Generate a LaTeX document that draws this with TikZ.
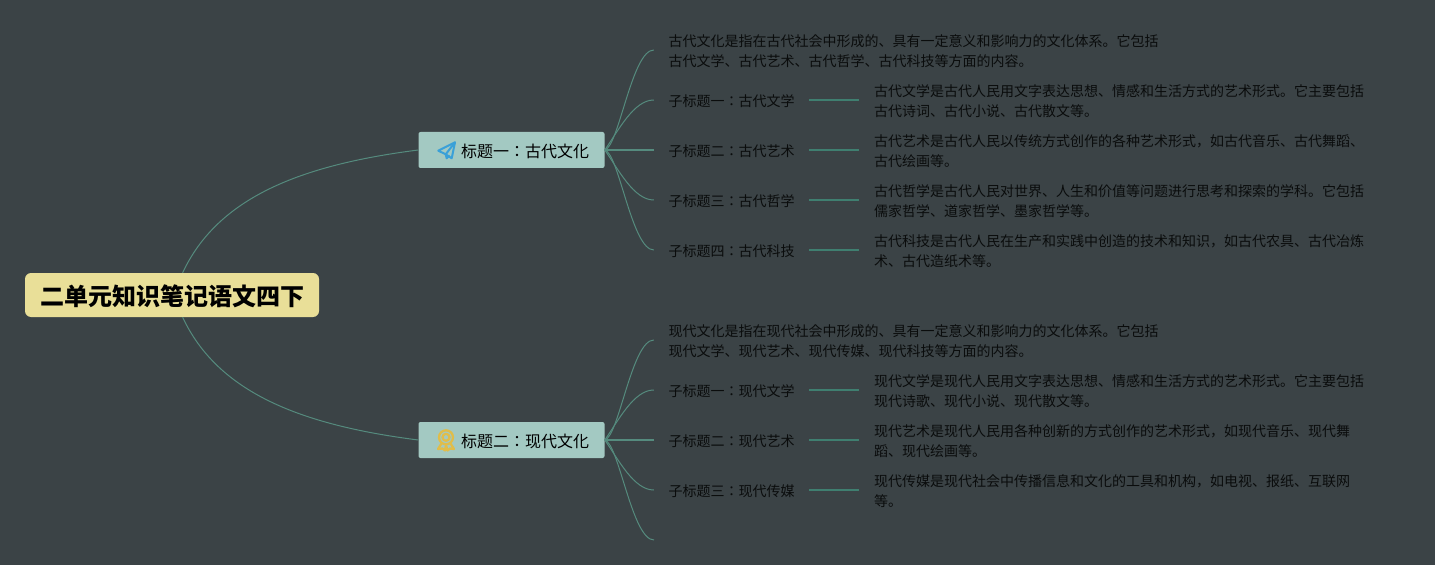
\documentclass[tikz,border=0pt]{standalone}
\usepackage{fontspec}
\setmainfont{Noto Sans CJK JP}
\usetikzlibrary{positioning}
\definecolor{bgcol}{HTML}{3B4346}
\definecolor{linecol}{HTML}{558B7E}
\definecolor{linkcol}{HTML}{3F7F70}
\definecolor{rootcol}{HTML}{E9DF98}
\definecolor{topiccol}{HTML}{A3C9C2}
\definecolor{inkcol}{HTML}{0A0C0C}
\definecolor{planecol}{HTML}{3AA0D8}
\definecolor{medalcol}{HTML}{E0BD4A}
\tikzset{
  rootbox/.style={fill=rootcol, rounded corners=4.5pt, minimum width=220.5pt, minimum height=33pt, inner sep=0pt, text=black, text height=17.4pt, font=\fontsize{18}{22}\selectfont\bfseries},
  topic/.style={fill=topiccol, rounded corners=1.5pt, minimum width=139.5pt, minimum height=27pt, inner sep=0pt, text=black, text height=12.2pt, font=\fontsize{12}{15}\selectfont},
  subhead/.style={inner xsep=10.9pt, inner ysep=0pt, text=inkcol, text height=11pt, font=\fontsize{10.5}{15}\selectfont},
  detail/.style={subhead, text width=372pt, align=left},
  branch/.style={draw=linecol, line width=.75pt},
  link/.style={draw=linkcol, line width=1.1pt}
}
\begin{document}
\begin{tikzpicture}[x=.75pt, y=.75pt, node distance=37.5pt]

            \useasboundingbox[fill=bgcol] (0,0) rectangle (1435,565);

            % Root and the two topics
            \node (root) [rootbox] at (172,270) {二单元知识笔记语文四下};
            \node (T1) [topic] at (511.5,415) {\hspace*{20.25pt}标题一：古代文化};
            \node (T2) [topic] at (511.5,125) {\hspace*{20.25pt}标题二：现代文化};

            % First topic, rows
            \node (S13) [subhead, right=36.8pt of T1.east, anchor=west] {子标题二：古代艺术};
            \node (S12) [subhead, above=of S13.west, anchor=west] {子标题一：古代文学};
            \node (S11) [detail, above=of S12.west, anchor=west] {古代文化是指在古代社会中形成的、具有一定意义和影响力的文化体系。它包括\\古代文学、古代艺术、古代哲学、古代科技等方面的内容。};
            \node (S14) [subhead, below=of S13.west, anchor=west] {子标题三：古代哲学};
            \node (S15) [subhead, below=of S14.west, anchor=west] {子标题四：古代科技};

            % First topic, texts on the right
            \node (D12) [detail, right=of S12] {古代文学是古代人民用文字表达思想、情感和生活方式的艺术形式。它主要包括\\古代诗词、古代小说、古代散文等。};
            \node (D13) [detail, right=of S13] {古代艺术是古代人民以传统方式创作的各种艺术形式，如古代音乐、古代舞蹈、\\古代绘画等。};
            \node (D14) [detail, right=of S14] {古代哲学是古代人民对世界、人生和价值等问题进行思考和探索的学科。它包括\\儒家哲学、道家哲学、墨家哲学等。};
            \node (D15) [detail, right=of S15] {古代科技是古代人民在生产和实践中创造的技术和知识，如古代农具、古代冶炼\\术、古代造纸术等。};

            % Second topic, rows
            \node (S23) [subhead, right=36.8pt of T2.east, anchor=west] {子标题二：现代艺术};
            \node (S22) [subhead, above=of S23.west, anchor=west] {子标题一：现代文学};
            \node (S21) [detail, above=of S22.west, anchor=west] {现代文化是指在现代社会中形成的、具有一定意义和影响力的文化体系。它包括\\现代文学、现代艺术、现代传媒、现代科技等方面的内容。};
            \node (S24) [subhead, below=of S23.west, anchor=west] {子标题三：现代传媒};
            \coordinate (S25) at (654,25);

            % Second topic, texts on the right
            \node (D22) [detail, right=of S22] {现代文学是现代人民用文字表达思想、情感和生活方式的艺术形式。它主要包括\\现代诗歌、现代小说、现代散文等。};
            \node (D23) [detail, right=of S23] {现代艺术是现代人民用各种创新的方式创作的艺术形式，如现代音乐、现代舞\\蹈、现代绘画等。};
            \node (D24) [detail, right=of S24] {现代传媒是现代社会中传播信息和文化的工具和机构，如电视、报纸、互联网\\等。};

            % Root to topics
            \draw[branch] ([xshift=8pt]root.north) .. controls +(35,75) and +(-118,-15) .. (T1.west);
            \draw[branch] ([xshift=8pt]root.south) .. controls +(35,-75) and +(-118,15) .. (T2.west);

            % First topic, curves
            \draw[branch] (T1.east) .. controls +(14,3) and +(-22,0) .. (S11.west);
            \draw[branch] (T1.east) .. controls +(14,20) and +(-20,0) .. (S12.west);
            \draw[link, draw=linecol] (T1.east) -- (S13.west);
            \draw[branch] (T1.east) .. controls +(14,-20) and +(-20,0) .. (S14.west);
            \draw[branch] (T1.east) .. controls +(14,-3) and +(-22,0) .. (S15.west);

            % Second topic, curves
            \draw[branch] (T2.east) .. controls +(14,3) and +(-22,0) .. (S21.west);
            \draw[branch] (T2.east) .. controls +(14,20) and +(-20,0) .. (S22.west);
            \draw[link, draw=linecol] (T2.east) -- (S23.west);
            \draw[branch] (T2.east) .. controls +(14,-20) and +(-20,0) .. (S24.west);
            \draw[branch] (T2.east) .. controls +(14,-3) and +(-22,0) .. (S25);

            % Short links
            \draw[link] (S12) -- (D12);
            \draw[link] (S13) -- (D13);
            \draw[link] (S14) -- (D14);
            \draw[link] (S15) -- (D15);
            \draw[link] (S22) -- (D22);
            \draw[link] (S23) -- (D23);
            \draw[link] (S24) -- (D24);

            % Plane icon
            \begin{scope}[shift={(T1.center)}, draw=planecol, line width=1.5pt, line join=round]
                \draw (-56.5,7.7) -- (-73.2,-.7) -- (-65.8,-4.3) -- (-59.8,-8.3) -- cycle;
                \draw (-56.5,7.7) -- (-65.8,-4.3) -- (-64.8,-8.3) -- (-62,-5.5);
            \end{scope}

            % Medal icon
            \begin{scope}[shift={(T2.center)}, draw=medalcol, line width=1.7pt, line join=round]
                \draw (-65.5,2.7) circle (7);
                \draw (-65.5,2.7) circle (3.5);
                \draw (-70,-3.5) -- (-73.5,-9) -- (-69,-8.5) -- (-66.5,-10.5) -- (-65.5,-5) -- (-64,-10.5) -- (-61.5,-8.5) -- (-57.5,-9) -- (-61,-3.5);
            \end{scope}

            \end{tikzpicture}
\end{document}
